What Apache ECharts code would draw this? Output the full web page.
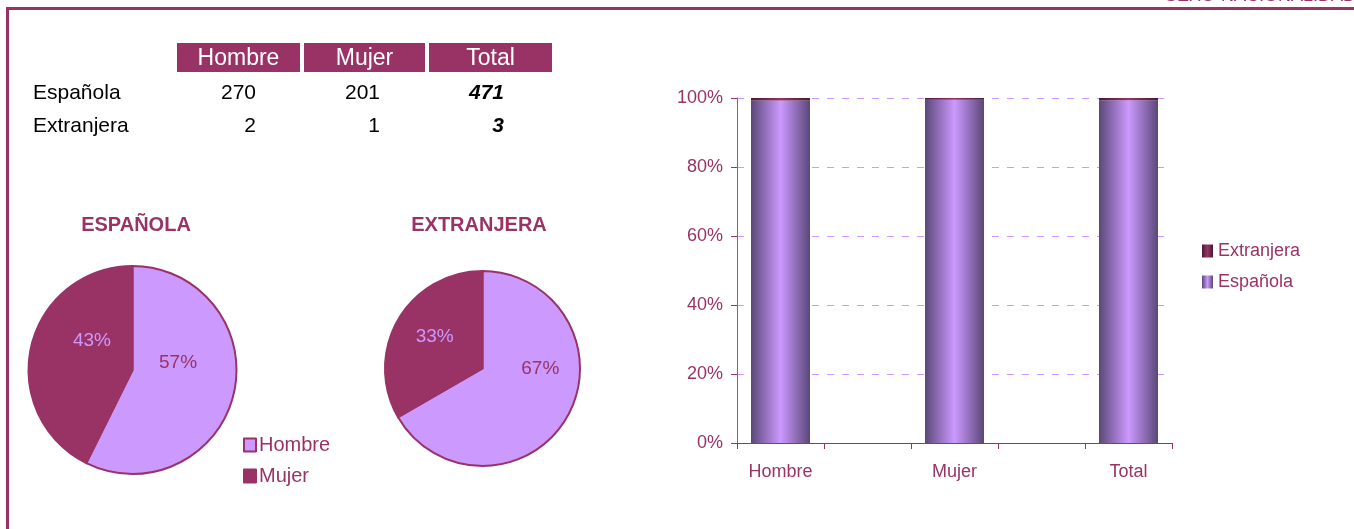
<!DOCTYPE html>
<html>
<head>
<meta charset="utf-8">
<script src="https://cdn.jsdelivr.net/npm/echarts@6/dist/echarts.min.js"></script>
<style>
html, body { margin: 0; padding: 0; background: #fff; }
#chart { width: 1354px; height: 529px; }
</style>
</head>
<body>
<div id="chart"></div>
<script>
// datos de la tabla
var columnas = ['Hombre', 'Mujer', 'Total'];
var nacionalidades = ['Española', 'Extranjera'];
var hombre = [270, 2];
var mujer = [201, 1];
var total = [471, 3];

// graficos
var sexos = ['Hombre', 'Mujer'];
var barCategorias = ['Hombre', 'Mujer', 'Total'];
var yTicks = [0, 20, 40, 60, 80, 100];

var MAGENTA = '#993366';
var LILA = '#CC99FF';
var FONT = '"Liberation Sans", Arial, sans-serif';

// eje x: cada categoria va separada por un hueco vacio (como en el excel)
var ejeX = [];
var colEsp = [hombre[0], mujer[0], total[0]];
var colExt = [hombre[1], mujer[1], total[1]];
var pctEsp = [], pctExt = [];
for (var i = 0; i < barCategorias.length; i++) {
	if (i > 0) {
		ejeX.push('');
		pctEsp.push('-');
		pctExt.push('-');
	}
	ejeX.push(barCategorias[i]);
	var s = colEsp[i] + colExt[i];
	pctEsp.push(colEsp[i] / s * 100);
	pctExt.push(colExt[i] / s * 100);
}

// tabla y marco como graphic
var graphics = [
	{ type: 'line', shape: { x1: 6, y1: 8.5, x2: 1354, y2: 8.5 }, style: { stroke: MAGENTA, lineWidth: 3 } },
	{ type: 'line', shape: { x1: 7.5, y1: 7, x2: 7.5, y2: 529 }, style: { stroke: MAGENTA, lineWidth: 3 } },
	{ type: 'text', x: 1165, y: -4, style: { text: 'SEXO-NACIONALIDAD', fill: MAGENTA, font: '18px ' + FONT, verticalAlign: 'middle' } }
];
var colX = [177, 304, 429], colW = [123, 121, 123];
var numRight = [256, 380, 504];
var rowY = [93, 126];
for (var c = 0; c < columnas.length; c++) {
	graphics.push({ type: 'rect', shape: { x: colX[c], y: 43, width: colW[c], height: 29 }, style: { fill: MAGENTA } });
	graphics.push({ type: 'text', x: colX[c] + colW[c] / 2, y: 58.5, style: { text: columnas[c], fill: '#fff', font: '23px ' + FONT, align: 'center', verticalAlign: 'middle' } });
}
for (var r = 0; r < nacionalidades.length; r++) {
	var vals = [hombre[r], mujer[r], total[r]];
	graphics.push({ type: 'text', x: 33, y: rowY[r], style: { text: nacionalidades[r], fill: '#000', font: '21px ' + FONT, verticalAlign: 'middle' } });
	for (var c = 0; c < vals.length; c++) {
		graphics.push({ type: 'text', x: numRight[c], y: rowY[r], style: {
			text: String(vals[c]), fill: '#000', align: 'right', verticalAlign: 'middle',
			font: (c == 2 ? 'italic bold ' : '') + '21px ' + FONT
		} });
	}
}

function gradiente(borde, centro) {
	return {
		type: 'linear', x: 0, y: 0, x2: 1, y2: 0,
		colorStops: [
			{ offset: 0, color: borde },
			{ offset: 0.5, color: centro },
			{ offset: 1, color: borde }
		]
	};
}

function pieSerie(nombre, center, radius, valores, offsets) {
	return {
		name: nombre,
		type: 'pie',
		center: center,
		radius: radius,
		startAngle: 90,
		clockwise: true,
		silent: true,
		data: sexos.map(function(n, k) {
			return {
				name: n,
				value: valores[k],
				itemStyle: { color: k == 0 ? LILA : MAGENTA },
				label: { color: k == 0 ? MAGENTA : LILA }
			};
		}),
		itemStyle: { borderColor: MAGENTA, borderWidth: 2 },
		label: {
			show: true,
			position: 'inside',
			fontSize: 19,
			fontFamily: FONT,
			formatter: function(p) { return Math.round(p.percent) + '%'; }
		},
		labelLine: { show: false },
		labelLayout: function(p) {
			return { dx: offsets[p.dataIndex][0], dy: offsets[p.dataIndex][1] };
		}
	};
}

var chart = echarts.init(document.getElementById('chart'));
chart.setOption({
	animation: false,
	textStyle: { fontFamily: FONT },
	graphic: graphics,
	title: [
		{ text: 'ESPAÑOLA', left: 131, top: 210, textAlign: 'center', textStyle: { color: MAGENTA, fontSize: 20, fontWeight: 'bold', fontFamily: FONT } },
		{ text: 'EXTRANJERA', left: 474, top: 210, textAlign: 'center', textStyle: { color: MAGENTA, fontSize: 20, fontWeight: 'bold', fontFamily: FONT } }
	],
	legend: [
		{
			data: sexos,
			orient: 'vertical',
			left: 243,
			top: 435,
			padding: 0,
			icon: 'rect',
			itemWidth: 12,
			itemHeight: 13,
			itemGap: 11,
			selectedMode: false,
			textStyle: { color: MAGENTA, fontSize: 20, fontFamily: FONT, padding: [0, 0, 0, -2] }
		},
		{
			data: ['Extranjera', 'Española'],
			orient: 'vertical',
			left: 1202,
			top: 242,
			padding: 0,
			icon: 'rect',
			itemWidth: 11,
			itemHeight: 13,
			itemGap: 13,
			selectedMode: false,
			textStyle: { color: MAGENTA, fontSize: 18, fontFamily: FONT }
		}
	],
	grid: { left: 737, right: 182, top: 98, bottom: 86 },
	xAxis: {
		type: 'category',
		data: ejeX,
		boundaryGap: true,
		axisLine: { show: true, lineStyle: { color: MAGENTA, width: 1 } },
		axisTick: { show: true, length: 6, interval: 0, lineStyle: { color: MAGENTA } },
		splitLine: { show: false },
		axisLabel: { color: MAGENTA, fontSize: 18, margin: 20, interval: 0 }
	},
	yAxis: {
		type: 'value',
		min: yTicks[0],
		max: yTicks[yTicks.length - 1],
		interval: 20,
		axisLine: { show: true, lineStyle: { color: '#b0507f', width: 1 } },
		axisTick: { show: true, length: 6, lineStyle: { color: MAGENTA } },
		axisLabel: { color: MAGENTA, fontSize: 18, margin: 14, padding: [5, 0, 0, 0], formatter: '{value}%' },
		splitLine: { show: true, lineStyle: { color: LILA, type: [7, 8], width: 1 } }
	},
	series: [
		pieSerie('ESPAÑOLA', [132.5, 370], 104, [hombre[0], mujer[0]], [[-8, -20], [13, -17]]),
		pieSerie('EXTRANJERA', [482.5, 368.5], 97.5, [hombre[1], mujer[1]], [[13, -26], [-3, -6]]),
		{
			name: 'Española',
			type: 'bar',
			stack: 'nac',
			barWidth: 59,
			silent: true,
			data: pctEsp,
			itemStyle: { color: gradiente('#5a4878', LILA) }
		},
		{
			name: 'Extranjera',
			type: 'bar',
			stack: 'nac',
			barWidth: 59,
			silent: true,
			data: pctExt,
			itemStyle: { color: gradiente('#4a1a33', MAGENTA) }
		}
	]
});
</script>
</body>
</html>
